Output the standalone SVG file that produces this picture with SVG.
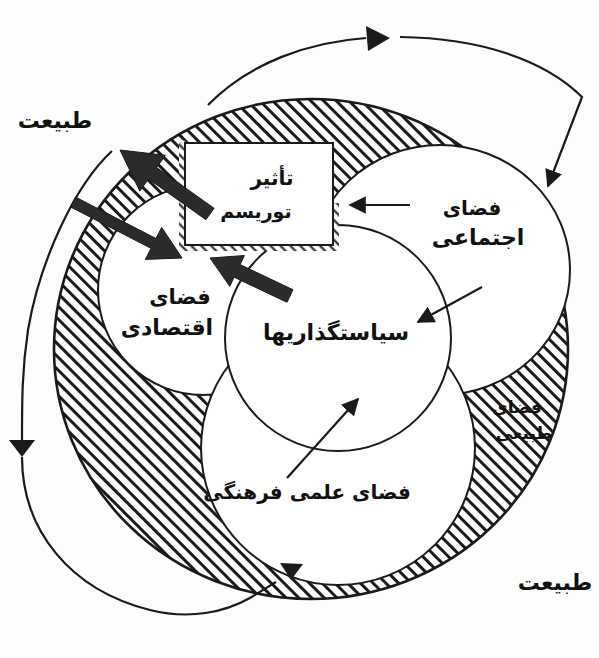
<svg xmlns="http://www.w3.org/2000/svg" width="599" height="658" viewBox="0 0 599 658">
<style>
.ln{fill:none;stroke:#1a1a1a;stroke-width:2.2}
.ci{fill:#ffffff;stroke:#1a1a1a;stroke-width:2}
.thk{fill:#2b2b2b;stroke:#1a1a1a;stroke-width:1}
.t{font-family:"DejaVu Sans",sans-serif;font-weight:bold;fill:#111111;text-anchor:middle}
</style>
<defs>
<pattern id="hatch" width="9" height="9" patternUnits="userSpaceOnUse" patternTransform="rotate(-45)">
<rect width="9" height="9" fill="#ffffff"/>
<line x1="4.5" y1="0" x2="4.5" y2="9" stroke="#1a1a1a" stroke-width="3"/>
</pattern>
<pattern id="tick" width="7" height="7" patternUnits="userSpaceOnUse" patternTransform="rotate(-45)">
<rect width="7" height="7" fill="#ffffff"/>
<line x1="3.5" y1="0" x2="3.5" y2="7" stroke="#1a1a1a" stroke-width="2"/>
</pattern>
<marker id="ah" viewBox="0 0 10 10" refX="9" refY="5" markerWidth="8" markerHeight="8" orient="auto" markerUnits="strokeWidth">
<path d="M0,0 L10,5 L0,10 z" fill="#1a1a1a"/>
</marker>
</defs>
<rect width="599" height="658" fill="#fdfdfd"/>

<g id="nature-ring">
<ellipse cx="311" cy="349" rx="257" ry="250" fill="url(#hatch)" stroke="#1a1a1a" stroke-width="2.6"/>
</g>
<g id="economic">
<circle cx="203" cy="290" r="105" class="ci"/>
</g>
<g id="social">
<ellipse cx="440" cy="270" rx="130" ry="125" class="ci"/>
</g>
<g id="cultural">
<circle cx="338" cy="448" r="137" class="ci"/>
</g>
<g id="policies">
<circle cx="338" cy="338" r="113" class="ci"/>
</g>
<g id="tourism">
<path d="M179,140 H186 V245 H333 V203 H339 V251 H179 Z" fill="url(#tick)"/>
<rect x="185" y="143" width="148" height="102" fill="#ffffff" stroke="#1a1a1a" stroke-width="2"/>
<text class="t" x="272" y="185" font-size="20">تأثیر</text>
<text class="t" x="256" y="218" font-size="19">توریسم</text>
</g>

<g id="connectors">
<path class="ln" d="M208,105 C250,62 310,42 366,38"/>
<polygon points="366,26 390,38 368,51" fill="#1a1a1a"/>
<path class="ln" d="M400,37 C480,38 545,60 582,97 L548,186" marker-end="url(#ah)"/>
<path class="ln" d="M112,151 C75,185 40,260 28,330 C22,370 22,400 22,442"/>
<polygon points="9,440 35,440 22,457" fill="#1a1a1a"/>
<path class="ln" d="M22,457 C22,530 70,590 150,610 C190,620 225,612 250,598 L276,582"/>
<polygon points="280,563 303,564 291,580" fill="#1a1a1a"/>
<line class="ln" x1="410" y1="205" x2="350" y2="205" marker-end="url(#ah)"/>
<line class="ln" x1="482" y1="287" x2="418" y2="322" marker-end="url(#ah)"/>
<line class="ln" x1="287" y1="478" x2="358" y2="399" marker-end="url(#ah)"/>
<polygon class="thk" points="120,150 165.4,155.3 156.7,167.5 214.1,208.3 205.9,219.7 148.5,178.9 139.8,191.1"/>
<polygon class="thk" points="182,258 145.3,259.4 151,248.3 70.5,206.9 75.5,197.1 156,238.5 161.7,227.4"/>
<polygon class="thk" points="210,258 244.4,255.5 240.1,264.6 293,289.7 287,302.3 234.1,277.2 229.8,286.3"/>
</g>

<g id="labels">
<text class="t" x="55" y="128" font-size="22">طبیعت</text>
<text class="t" x="555" y="590" font-size="22">طبیعت</text>
<text class="t" x="472" y="215" font-size="20">فضای</text>
<text class="t" x="478" y="245" font-size="22">اجتماعی</text>
<text class="t" x="180" y="304" font-size="21">فضای</text>
<text class="t" x="167" y="335" font-size="22">اقتصادی</text>
<text class="t" x="336" y="340" font-size="22">سیاستگذاریها</text>
<text class="t" x="307" y="499" font-size="20">فضای علمی فرهنگی</text>
<text class="t" x="517" y="413" font-size="17">فضای</text>
<text class="t" x="524" y="439" font-size="17">طبیعی</text>
</g>
</svg>
